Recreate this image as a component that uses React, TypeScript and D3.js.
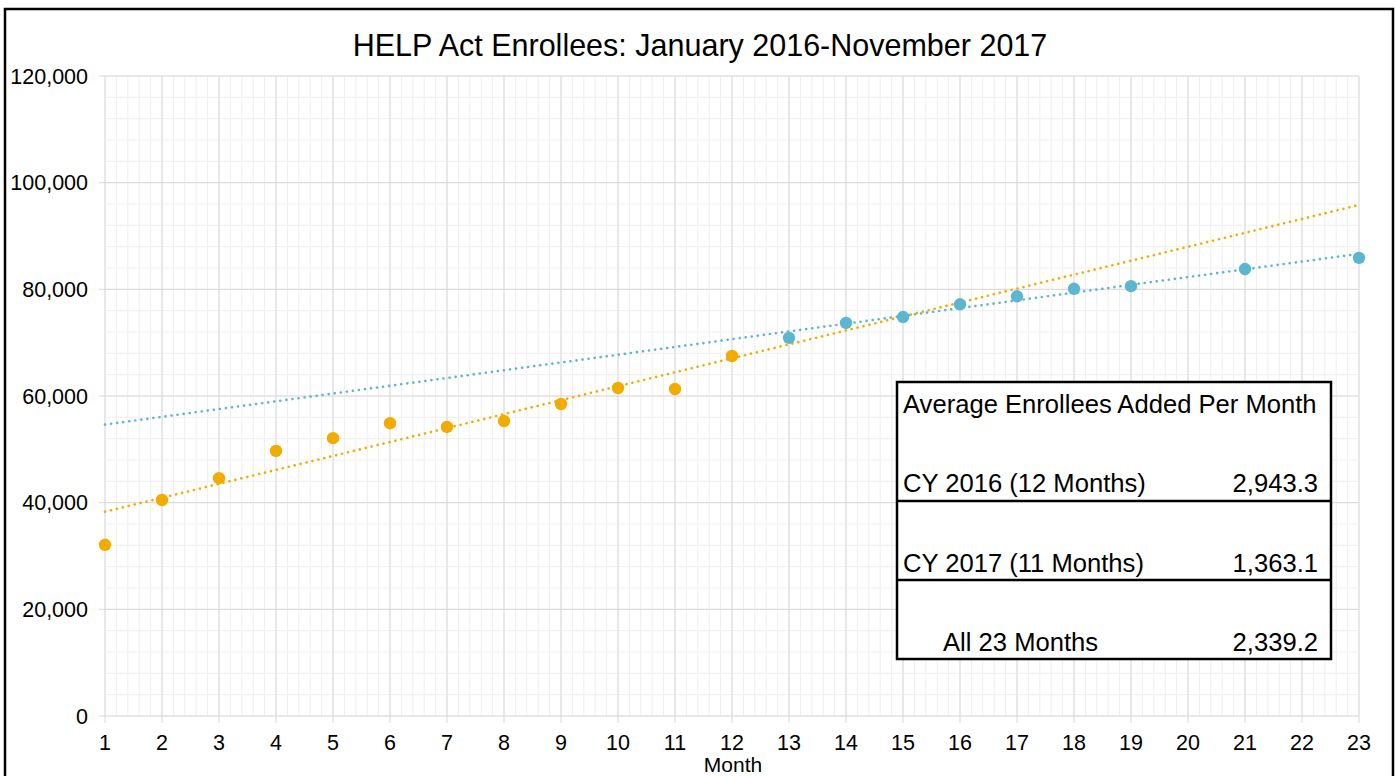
import React from "react";
import * as d3 from "d3";

// values
const months2016 = [1, 2, 3, 4, 5, 6, 7, 8, 9, 10, 11, 12];
const enrollees2016 = [32100, 40500, 44600, 49700, 52100, 54900, 54200, 55300, 58500, 61500, 61300, 67500];
const months2017 = [13, 14, 15, 16, 17, 18, 19, 21, 23];
const enrollees2017 = [70900, 73700, 74800, 77200, 78700, 80100, 80600, 83800, 85900];

const monthTicks = d3.range(1, 24);
const yTicks = [0, 20000, 40000, 60000, 80000, 100000, 120000];

const tableHeader = "Average Enrollees Added Per Month";
const tableLabels = ["CY 2016 (12 Months)", "CY 2017 (11 Months)", "All 23 Months"];
const tableValues = ["2,943.3", "1,363.1", "2,339.2"];

const ORANGE = "#F2AB00";
const BLUE = "#5DB6CF";
const FONT = "'Liberation Sans', Arial, sans-serif";

// least squares fit, like Excel's linear trendline
function linFit(xs: number[], ys: number[]) {
  const mx = d3.mean(xs)!;
  const my = d3.mean(ys)!;
  let sxy = 0, sxx = 0;
  xs.forEach((x, i) => {
    sxy += (x - mx) * (ys[i] - my);
    sxx += (x - mx) * (x - mx);
  });
  const slope = sxy / sxx;
  return (x: number) => my + slope * (x - mx);
}

export default function App() {
  const W = 1395, H = 776;
  const margin = { left: 105, right: 36, top: 76, bottom: 60 };

  const x = d3.scaleLinear().domain([1, 23]).range([margin.left, W - margin.right]);
  const y = d3.scaleLinear().domain([0, 120000]).range([H - margin.bottom, margin.top]);

  const minorX = d3.range(1, 23.001, 0.2);
  const minorY = d3.range(0, 120001, 4000);

  const fit16 = linFit(months2016, enrollees2016);
  const fit17 = linFit(months2017, enrollees2017);
  const trendLine = d3.line<number>().x(d => x(d[0])).y(d => y(d[1]));

  const fmt = d3.format(",");

  // table box
  const tb = { x0: 897, x1: 1331, top: 382, rows: [501, 580], bottom: 659 };

  return (
    <svg width={W} height={H} style={{ display: "block", position: "absolute", left: 0, top: 0 }}>
      <rect x={0} y={0} width={W} height={H} fill="#fff" />
      <rect x={5} y={9} width={1388} height={H + 20} fill="none" stroke="#000" strokeWidth={2.5} />

      <text x={700} y={56} textAnchor="middle" fontFamily={FONT} fontSize={30.5} fill="#000">
        HELP Act Enrollees: January 2016-November 2017
      </text>

      {/* minor grid */}
      <g stroke="#eeeeee" strokeWidth={1}>
        {minorX.map((m, i) => (
          <line key={"mx" + i} x1={x(m)} x2={x(m)} y1={y(0)} y2={y(120000)} />
        ))}
        {minorY.map((v, i) => (
          <line key={"my" + i} x1={x(1)} x2={x(23)} y1={y(v)} y2={y(v)} />
        ))}
      </g>
      {/* major grid */}
      <g stroke="#d9d9d9" strokeWidth={1}>
        {monthTicks.map(m => (
          <line key={"gx" + m} x1={x(m)} x2={x(m)} y1={y(0)} y2={y(120000)} />
        ))}
        {yTicks.map(v => (
          <line key={"gy" + v} x1={x(1)} x2={x(23)} y1={y(v)} y2={y(v)} />
        ))}
        {monthTicks.map(m => (
          <line key={"tx" + m} x1={x(m)} x2={x(m)} y1={y(0)} y2={y(0) + 7} />
        ))}
        {yTicks.map(v => (
          <line key={"ty" + v} x1={x(1) - 6} x2={x(1)} y1={y(v)} y2={y(v)} />
        ))}
      </g>

      {/* axis labels */}
      <g fontFamily={FONT} fontSize={21.5} fill="#000">
        {yTicks.map(v => (
          <text key={"ly" + v} x={x(1) - 17} y={y(v) + 7.5} textAnchor="end">{fmt(v)}</text>
        ))}
        {monthTicks.map(m => (
          <text key={"lx" + m} x={x(m)} y={y(0) + 34} textAnchor="middle">{m}</text>
        ))}
      </g>
      <text x={x(12) + 1} y={772} textAnchor="middle" fontFamily={FONT} fontSize={21} fill="#000">Month</text>

      {/* trendlines */}
      <path d={trendLine([[1, fit16(1)], [23, fit16(23)]])!} stroke={ORANGE} strokeWidth={2.6}
        strokeDasharray="0.1 6" strokeLinecap="round" fill="none" />
      <path d={trendLine([[1, fit17(1)], [23, fit17(23)]])!} stroke={BLUE} strokeWidth={2.6}
        strokeDasharray="0.1 6" strokeLinecap="round" fill="none" />

      {/* points */}
      {months2016.map((m, i) => (
        <circle key={"o" + m} cx={x(m)} cy={y(enrollees2016[i])} r={6.2} fill={ORANGE} />
      ))}
      {months2017.map((m, i) => (
        <circle key={"b" + m} cx={x(m)} cy={y(enrollees2017[i])} r={6.2} fill={BLUE} />
      ))}

      {/* summary table */}
      <g fontFamily={FONT} fontSize={25.6} fill="#000">
        <rect x={tb.x0} y={tb.top} width={tb.x1 - tb.x0} height={tb.bottom - tb.top}
          fill="#fff" stroke="#000" strokeWidth={2.5} />
        {tb.rows.map(r => (
          <line key={"r" + r} x1={tb.x0} x2={tb.x1} y1={r} y2={r} stroke="#000" strokeWidth={2.5} />
        ))}
        <text x={903} y={413}>{tableHeader}</text>
        {tableLabels.map((lab, i) => (
          <text key={lab} x={i === 2 ? 943 : 903} y={492 + i * 79.5}>{lab}</text>
        ))}
        {tableValues.map((v, i) => (
          <text key={v} x={1318} y={492 + i * 79.5} textAnchor="end">{v}</text>
        ))}
      </g>
    </svg>
  );
}
